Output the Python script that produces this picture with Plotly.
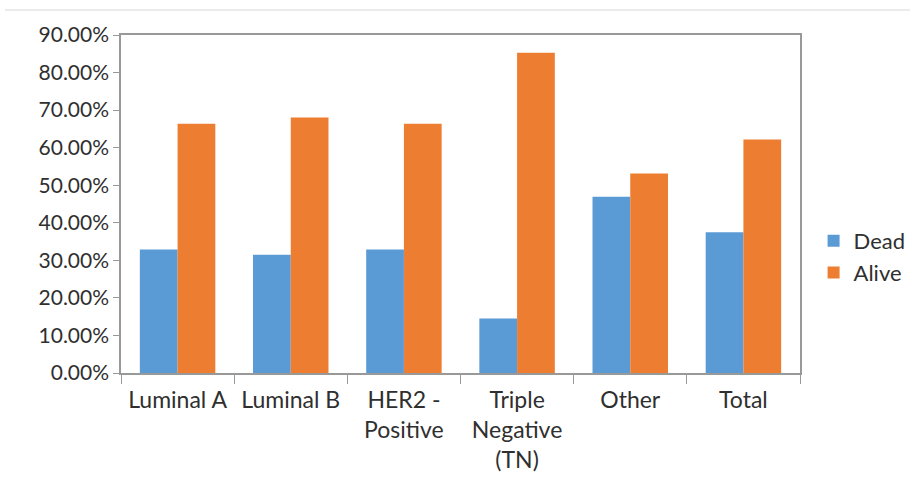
import plotly.graph_objects as go

# Survival status by breast cancer subtype (percent of patients)
categories = ["Luminal A", "Luminal B", "HER2 -<br>Positive",
              "Triple<br>Negative<br>(TN)", "Other", "Total"]
dead_pct = [32.9, 31.5, 32.9, 14.5, 46.9, 37.5]
alive_pct = [66.4, 68.0, 66.4, 85.3, 53.1, 62.2]
y_ticks = [0, 10, 20, 30, 40, 50, 60, 70, 80, 90]

BLUE = "#5B9BD5"
ORANGE = "#ED7D31"
AXIS = "#999999"
TEXT = "#2F2F2F"
FONT = "Lato"

fig = go.Figure()
fig.add_trace(go.Bar(name="Dead", x=categories, y=dead_pct,
                     marker=dict(color=BLUE, line=dict(width=0))))
fig.add_trace(go.Bar(name="Alive", x=categories, y=alive_pct,
                     marker=dict(color=ORANGE, line=dict(width=0))))

fig.update_layout(
    width=915, height=500,
    margin=dict(l=121, r=115, t=35, b=127, autoexpand=False),
    paper_bgcolor="white", plot_bgcolor="white",
    barmode="group", bargap=0.333, bargroupgap=0,
    font=dict(family=FONT, size=21, color=TEXT),
    legend=dict(x=1.02, y=0.343, xanchor="left", yanchor="middle",
                font=dict(family=FONT, size=22, color=TEXT),
                itemwidth=30, tracegroupgap=0, bgcolor="rgba(0,0,0,0)"),
    showlegend=True,
)

fig.update_xaxes(
    type="category", tickson="boundaries", ticks="outside", ticklen=9,
    tickcolor=AXIS, showline=True, linecolor=AXIS, linewidth=1.5,
    mirror=True, showgrid=False, tickfont=dict(size=23, color=TEXT),
    ticklabelstandoff=6,
)
fig.update_yaxes(
    range=[0, 90], tickvals=y_ticks,
    ticktext=[f"{v:.2f}%" for v in y_ticks],
    ticks="outside", ticklen=6, tickcolor=AXIS,
    showline=True, linecolor=AXIS, linewidth=1.5, mirror=True,
    showgrid=False, zeroline=False, tickfont=dict(size=21, color=TEXT),
)

# thin rule across the top of the figure
fig.add_shape(type="line", xref="paper", yref="paper",
              x0=-0.171, x1=1.162, y0=1.074, y1=1.074,
              line=dict(color="#D9D9D9", width=1))

fig.write_html("out.html")
